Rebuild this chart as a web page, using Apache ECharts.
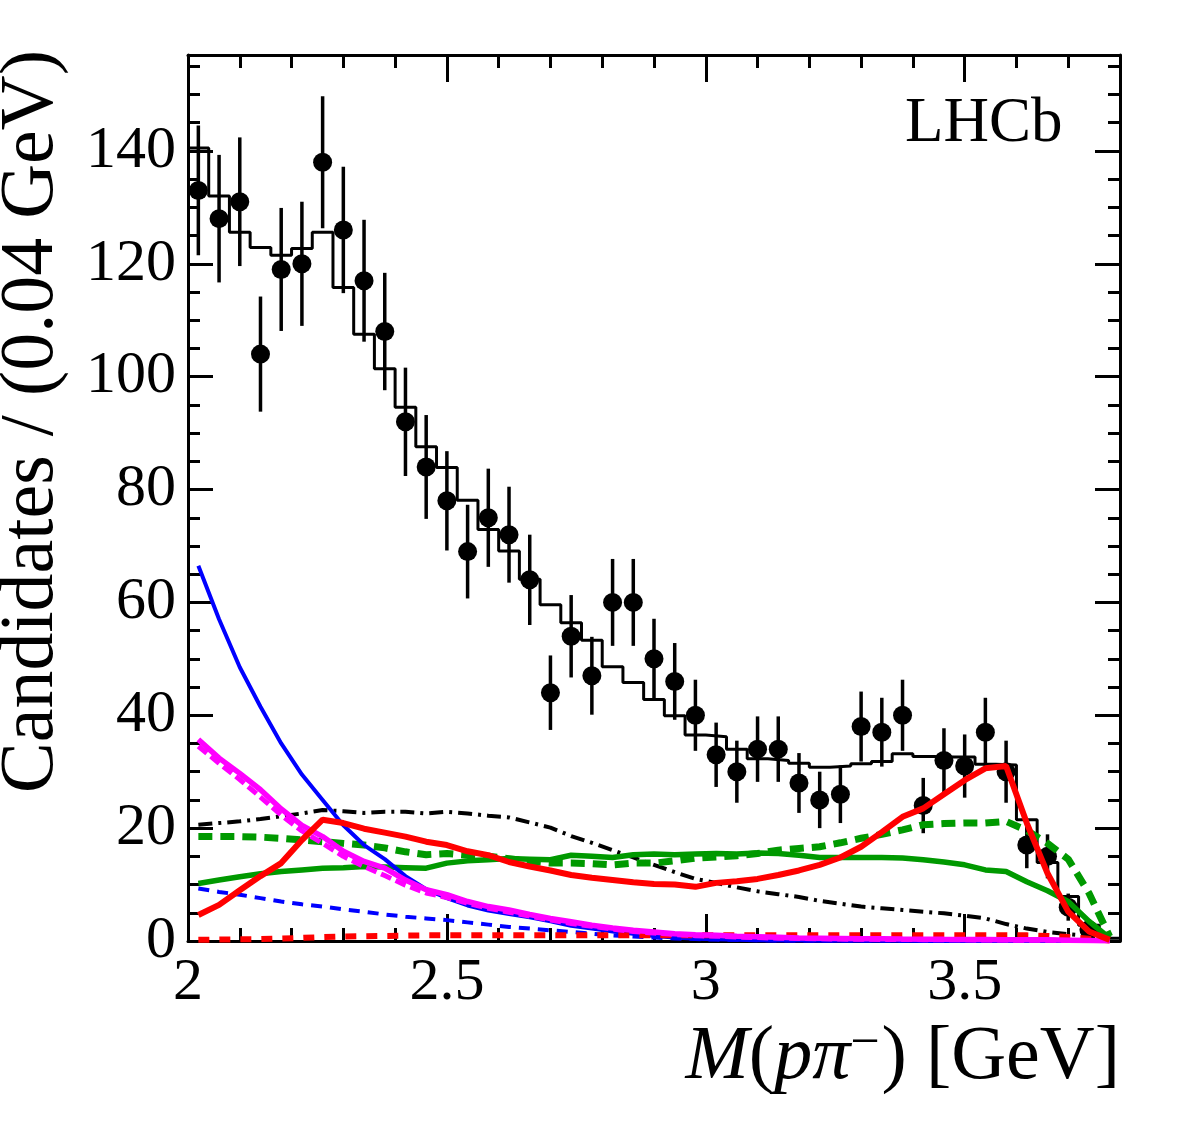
<!DOCTYPE html>
<html>
<head>
<meta charset="utf-8">
<script src="https://cdn.jsdelivr.net/npm/echarts@6.0.0/dist/echarts.min.js"></script>
<style>
  html, body { margin: 0; padding: 0; background: #fff; }
  #chart { width: 1182px; height: 1121px; }
</style>
</head>
<body>
<div id="chart"></div>
<script>
// bin centres of M(p pi-) [GeV], 0.04 GeV bins
const massBins = [2.02, 2.06, 2.10, 2.14, 2.18, 2.22, 2.26, 2.30, 2.34, 2.38,
  2.42, 2.46, 2.50, 2.54, 2.58, 2.62, 2.66, 2.70, 2.74, 2.78,
  2.82, 2.86, 2.90, 2.94, 2.98, 3.02, 3.06, 3.10, 3.14, 3.18,
  3.22, 3.26, 3.30, 3.34, 3.38, 3.42, 3.46, 3.50, 3.54, 3.58,
  3.62, 3.66, 3.70, 3.74, 3.78]
const binWidth = 0.04

// data
const counts = [133, 128, 131, 104, 119, 120, 138, 126, 117, 108,
  92, 84, 78, 69, 75, 72, 64, 44, 54, 47,
  60, 60, 50, 46, 40, 33, 30, 34, 34, 28,
  25, 26, 38, 37, 40, 24, 32, 31, 37, 30,
  17, 15, 6, 2, 0]
const countErr = [11.5, 11.3, 11.4, 10.2, 10.9, 11.0, 11.7, 11.2, 10.8, 10.4,
  9.6, 9.2, 8.8, 8.3, 8.7, 8.5, 8.0, 6.6, 7.3, 6.9,
  7.7, 7.7, 7.1, 6.8, 6.3, 5.7, 5.5, 5.8, 5.8, 5.3,
  5.0, 5.1, 6.2, 6.1, 6.3, 4.9, 5.7, 5.6, 6.1, 5.5,
  4.1, 3.9, 2.4, 1.4, 0]

// fit total (histogram)
const fitTotal = [140.5, 132.0, 125.6, 122.9, 121.5, 122.7, 125.6, 115.8, 107.5, 101.4,
  94.6, 87.6, 83.9, 78.1, 72.9, 69.1, 64.1, 59.6, 56.4, 53.3,
  48.6, 45.8, 42.8, 39.9, 36.5, 36.2, 34.0, 32.3, 32.0, 31.5,
  30.8, 31.0, 31.4, 31.8, 33.2, 32.7, 32.6, 32.6, 31.3, 31.2,
  21.5, 13.9, 7.9, 2.8, 0.5]

// components
const blueSolid = [66.5, 57.0, 48.5, 41.5, 35.0, 29.5, 25.0, 20.5, 17.0, 14.5,
  11.5, 9.2, 7.6, 6.3, 5.4, 4.8, 4.2, 3.5, 2.7, 2.2,
  1.7, 1.3, 0.9, 0.6, 0.4, 0.3, 0.2, 0.15, 0.1, 0.08,
  0.06, 0.05, 0.04, 0.03, 0.03, 0.02, 0.02, 0.02, 0.01, 0.01,
  0.01, 0.01, 0, 0, 0]
const blueDashed = [9.3, 8.7, 8.2, 7.6, 7.0, 6.5, 6.1, 5.6, 5.2, 4.7,
  4.3, 4.0, 3.7, 3.3, 2.9, 2.5, 2.2, 1.9, 1.6, 1.3,
  1.0, 0.8, 0.6, 0.45, 0.35, 0.25, 0.2, 0.15, 0.1, 0.1,
  0.08, 0.08, 0.07, 0.07, 0.06, 0.06, 0.05, 0.05, 0.05, 0.04,
  0.04, 0.03, 0.03, 0.02, 0.01]
const magentaSolid = [35.7, 32.4, 29.7, 26.8, 23.4, 20.5, 18.5, 15.9, 14.1, 12.9,
  10.8, 9.1, 8.2, 7.0, 6.1, 5.5, 4.7, 4.0, 3.4, 2.8,
  2.3, 1.9, 1.6, 1.3, 1.1, 1.0, 0.85, 0.75, 0.65, 0.55,
  0.5, 0.45, 0.4, 0.38, 0.35, 0.33, 0.3, 0.28, 0.26, 0.24,
  0.22, 0.2, 0.15, 0.1, 0.05]
const magentaDashed = [34.5, 31.5, 28.6, 25.5, 22.3, 19.5, 17.3, 15.0, 13.2, 11.6,
  9.9, 8.5, 7.7, 6.7, 5.8, 5.1, 4.4, 3.7, 3.1, 2.6,
  2.1, 1.7, 1.4, 1.15, 0.95, 0.85, 0.7, 0.6, 0.5, 0.45,
  0.4, 0.35, 0.3, 0.28, 0.26, 0.24, 0.22, 0.2, 0.18, 0.16,
  0.14, 0.12, 0.1, 0.08, 0.04]
const redSolid = [4.6, 6.4, 9.0, 11.5, 13.8, 17.9, 21.5, 20.9, 19.9, 19.2,
  18.5, 17.6, 17.0, 15.9, 15.2, 14.0, 13.2, 12.5, 11.7, 11.2,
  10.8, 10.4, 10.1, 10.0, 9.6, 10.3, 10.6, 11.0, 11.7, 12.5,
  13.5, 14.8, 16.7, 19.3, 22.0, 23.5, 26.0, 28.5, 30.6, 31.0,
  20.9, 12.0, 5.2, 1.7, 0.2]
const redDashed = [0.2, 0.25, 0.3, 0.35, 0.45, 0.55, 0.7, 0.8, 0.85, 0.9,
  0.95, 1.0, 1.0, 1.0, 1.0, 1.0, 1.0, 1.0, 1.0, 1.0,
  1.0, 1.0, 1.0, 1.0, 1.0, 1.0, 1.0, 1.0, 1.0, 1.0,
  1.0, 1.0, 1.0, 1.0, 1.0, 1.0, 1.0, 1.0, 1.0, 1.0,
  1.0, 0.9, 0.7, 0.4, 0.1]
const greenSolid = [10.2, 10.8, 11.4, 11.9, 12.3, 12.6, 12.9, 13.0, 13.2, 13.1,
  13.0, 12.9, 13.8, 14.2, 14.4, 14.6, 14.5, 14.4, 15.2, 15.0,
  14.8, 15.3, 15.4, 15.3, 15.4, 15.5, 15.4, 15.6, 15.5, 15.2,
  14.8, 14.8, 14.8, 14.8, 14.7, 14.4, 14.0, 13.5, 12.6, 12.3,
  10.5, 8.9, 7.0, 3.5, 0.5]
const greenDashed = [18.5, 18.5, 18.5, 18.4, 18.2, 17.9, 17.6, 17.3, 17.0, 16.5,
  15.8, 15.3, 15.5, 15.2, 15.0, 14.6, 14.1, 13.8, 13.8, 13.7,
  13.5, 13.8, 13.8, 14.2, 14.7, 14.9, 15.1, 15.5, 16.1, 16.4,
  16.7, 17.4, 18.2, 18.9, 19.7, 20.6, 20.8, 20.9, 20.9, 21.2,
  19.6, 17.3, 14.5, 8.5, 0.8]
const blackDashDot = [20.6, 20.9, 21.2, 21.6, 22.1, 22.6, 23.2, 23.0, 22.7, 22.9,
  22.9, 22.6, 22.9, 22.6, 22.2, 21.9, 21.0, 20.1, 18.6, 17.4,
  16.1, 14.8, 13.5, 12.2, 11.0, 10.3, 9.5, 8.8, 8.3, 7.8,
  7.1, 6.6, 6.1, 5.8, 5.5, 5.2, 4.9, 4.5, 4.0, 3.0,
  2.2, 1.6, 1.2, 0.9, 0.5]

const xTicks = [2, 2.5, 3, 3.5]
const yTicks = [0, 20, 40, 60, 80, 100, 120, 140]

const font = "'Liberation Serif', 'Times New Roman', serif"
const chart = echarts.init(document.getElementById('chart'))

function curve(vals) {
  return massBins.map((x, i) => [x, vals[i]])
}

// histogram as steps from the left bin edges
const histData = massBins.map((x, i) => [x - binWidth / 2, fitTotal[i]])
histData.push([massBins[massBins.length - 1] + binWidth / 2, fitTotal[fitTotal.length - 1]])

const pointData = massBins.map((x, i) => [x, counts[i], countErr[i]]).filter(d => d[1] > 0)

function tickAxis(pos, interval, len, isMain, isX) {
  return {
    type: 'value',
    position: pos,
    min: isX ? 2 : 0,
    max: isX ? 3.8 : 157,
    interval: interval,
    axisLine: { show: isMain, onZero: false, lineStyle: { color: '#000', width: 3 } },
    axisTick: { show: true, inside: true, length: len, lineStyle: { color: '#000', width: 3 } },
    axisLabel: { show: false },
    splitLine: { show: false },
  }
}

const xMain = tickAxis('bottom', 0.5, 27, true, true)
xMain.axisLabel = {
  show: true, fontFamily: font, fontSize: 60, color: '#000', margin: 12,
  showMaxLabel: false,
  formatter: v => (xTicks.indexOf(Math.round(v * 10) / 10) >= 0 ? String(Math.round(v * 10) / 10) : ''),
}
const yMain = tickAxis('left', 20, 25, true, false)
yMain.axisLabel = {
  show: true, fontFamily: font, fontSize: 60, color: '#000', margin: 12,
  showMaxLabel: false,
  formatter: v => (yTicks.indexOf(v) >= 0 ? String(v) : ''),
}

const option = {
  animation: false,
  backgroundColor: '#fff',
  grid: { left: 188, right: 62, top: 55, bottom: 180, containLabel: false, outerBoundsMode: 'none' },
  xAxis: [
    xMain,
    tickAxis('bottom', 0.1, 13, false, true),
    tickAxis('top', 0.5, 27, true, true),
    tickAxis('top', 0.1, 13, false, true),
  ],
  yAxis: [
    yMain,
    tickAxis('left', 5, 12, false, false),
    tickAxis('right', 20, 25, true, false),
    tickAxis('right', 5, 12, false, false),
  ],
  graphic: [
    {
      type: 'text', x: 905, y: 124,
      style: { text: 'LHCb', fontFamily: font, fontSize: 63, fill: '#000', align: 'left', verticalAlign: 'middle' },
    },
    {
      type: 'text', x: 32, y: 50, rotation: Math.PI / 2,
      style: { text: 'Candidates / (0.04 GeV)', fontFamily: font, fontSize: 76, fill: '#000', align: 'right', verticalAlign: 'middle' },
    },
    {
      type: 'text', x: 1120, y: 1058,
      style: {
        text: '{i|M}{n|(}{i|pπ}{s|−}{n|) [GeV]}',
        align: 'right', verticalAlign: 'middle', fill: '#000',
        rich: {
          i: { fontFamily: font, fontSize: 76, fontStyle: 'italic', lineHeight: 80 },
          n: { fontFamily: font, fontSize: 76, lineHeight: 80 },
          s: { fontFamily: font, fontSize: 52, lineHeight: 80, verticalAlign: 'top', padding: [0, 2, 42, 0] },
        },
      },
    },
  ],
  series: [
    {
      name: 'fit', type: 'line', data: histData, step: 'end', symbol: 'none',
      lineStyle: { color: '#000', width: 3 }, z: 2,
    },
    {
      name: 'errors', type: 'custom', data: pointData, z: 3,
      renderItem: (params, api) => {
        const x = api.value(0), y = api.value(1), e = api.value(2)
        const p1 = api.coord([x, y - e]), p2 = api.coord([x, y + e])
        return { type: 'line', shape: { x1: p1[0], y1: p1[1], x2: p2[0], y2: p2[1] }, style: { stroke: '#000', lineWidth: 3.5 } }
      },
    },
    {
      name: 'data', type: 'scatter', data: pointData, symbol: 'circle', symbolSize: 19,
      itemStyle: { color: '#000', opacity: 1 }, z: 4,
    },
    {
      name: 'dashdot', type: 'line', data: curve(blackDashDot), symbol: 'none', z: 5,
      lineStyle: { color: '#000', width: 4, type: [14, 6, 3, 6] },
    },
    {
      name: 'green', type: 'line', data: curve(greenSolid), symbol: 'none', z: 5,
      lineStyle: { color: '#009900', width: 5.5 },
    },
    {
      name: 'greenDashed', type: 'line', data: curve(greenDashed), symbol: 'none', z: 5,
      lineStyle: { color: '#009900', width: 7, type: [14, 8] },
    },
    {
      name: 'blueDashed', type: 'line', data: curve(blueDashed), symbol: 'none', z: 5,
      lineStyle: { color: '#0000ff', width: 4, type: [11, 8] },
    },
    {
      name: 'blue', type: 'line', data: curve(blueSolid), symbol: 'none', z: 5,
      lineStyle: { color: '#0000ff', width: 4 },
    },
    {
      name: 'redDashed', type: 'line', data: curve(redDashed), symbol: 'none', z: 5,
      lineStyle: { color: '#ff0000', width: 6, type: [11, 10] },
    },
    {
      name: 'magentaDashed', type: 'line', data: curve(magentaDashed), symbol: 'none', z: 5,
      lineStyle: { color: '#ff00ff', width: 5, type: [11, 5] },
    },
    {
      name: 'magenta', type: 'line', data: curve(magentaSolid), symbol: 'none', z: 5,
      lineStyle: { color: '#ff00ff', width: 5.5 },
    },
    {
      name: 'red', type: 'line', data: curve(redSolid), symbol: 'none', z: 5,
      lineStyle: { color: '#ff0000', width: 6 },
    },
  ],
}

chart.setOption(option)
</script>
</body>
</html>
